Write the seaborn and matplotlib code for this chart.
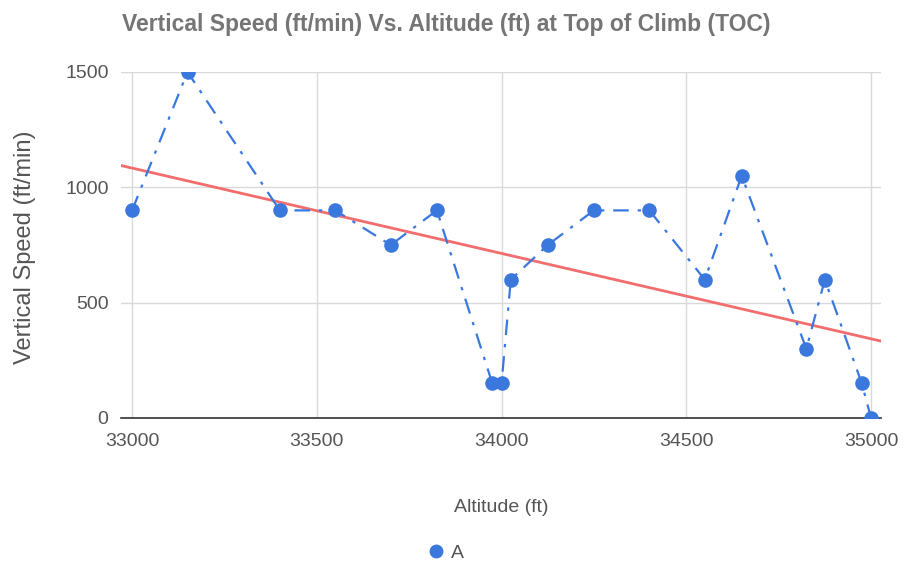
import matplotlib
matplotlib.use("Agg")
import matplotlib.pyplot as plt
from matplotlib.lines import Line2D
import seaborn as sns
import pandas as pd

altitude_ft = [33000, 33150, 33400, 33550, 33700, 33825, 33975, 34000, 34025,
               34125, 34250, 34400, 34550, 34650, 34825, 34875, 34975, 35000]
vertical_speed = [900, 1500, 900, 900, 750, 900, 150, 150, 600,
                  750, 900, 900, 600, 1050, 300, 600, 150, 0]
x_ticks = [33000, 33500, 34000, 34500, 35000]
y_ticks = [0, 500, 1000, 1500]
series_name = "A"

df = pd.DataFrame({"Altitude (ft)": altitude_ft, "Vertical Speed (ft/min)": vertical_speed})

sns.set_style("white")
plt.rcParams["font.family"] = ["Liberation Sans", "DejaVu Sans"]

BLUE = "#3a78de"
RED = "#f26d6d"
GRID = "#d9d9d9"
TEXT = "#555555"

fig = plt.figure(figsize=(9.05, 5.67), dpi=100)
ax = fig.add_axes([121 / 905, 1 - 418 / 567, 760 / 905, 346 / 567])

ax.set_xlim(32970, 35027)
ax.set_ylim(0, 1500)

sns.lineplot(data=df, x="Altitude (ft)", y="Vertical Speed (ft/min)", ax=ax,
             color=BLUE, linestyle=(0, (7, 4, 1.5, 4)), linewidth=1.6,
             marker="o", markersize=10.5, markeredgewidth=0, zorder=3)

# Linear trendline across the whole axis width
sns.regplot(data=df, x="Altitude (ft)", y="Vertical Speed (ft/min)", ax=ax,
            scatter=False, ci=None, truncate=False,
            line_kws={"color": RED, "linewidth": 2, "zorder": 2})

ax.set_xlim(32970, 35027)
ax.set_ylim(0, 1500)
ax.set_xticks(x_ticks)
ax.set_yticks(y_ticks)
ax.tick_params(axis="x", length=0, labelsize=14, labelcolor=TEXT, pad=11)
ax.tick_params(axis="y", length=0, labelsize=14, labelcolor=TEXT, pad=9)
ax.grid(True, color=GRID, linewidth=1)
ax.set_axisbelow(True)
for side in ["top", "right", "left"]:
    ax.spines[side].set_visible(False)
ax.spines["bottom"].set_color("#333333")
ax.spines["bottom"].set_linewidth(1.2)

ax.set_xlabel("")
ax.set_ylabel("")
fig.text(501 / 905, 1 - 507 / 567, "Altitude (ft)", fontsize=14, color=TEXT,
         ha="center", va="center")
fig.text(25 / 905, 1 - 247 / 567, "Vertical Speed (ft/min)", fontsize=17, color=TEXT,
         ha="center", va="center", rotation=90)

fig.text(122 / 905, 1 - 24 / 567, "Vertical Speed (ft/min) Vs. Altitude (ft) at Top of Climb (TOC)",
         fontsize=16.5, fontweight="bold", color="#757575", ha="left", va="center")

handle = Line2D([], [], linestyle="none", marker="o", markersize=10,
                markeredgewidth=0, color=BLUE)
fig.legend([handle], [series_name], loc="center", bbox_to_anchor=(445 / 905, 1 - 553 / 567),
           frameon=False, fontsize=14, labelcolor=TEXT, handletextpad=0.3,
           handlelength=1)

fig.savefig("out.png", dpi=100)
